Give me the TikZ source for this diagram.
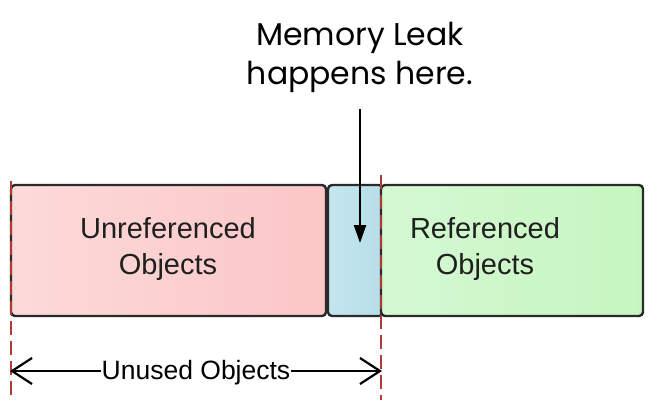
\documentclass[tikz,border=0pt]{standalone}
\usepackage{fontspec}
\setmainfont{Liberation Sans}
\newfontfamily\topfont{Poppins}
\usetikzlibrary{arrows.meta}
\definecolor{boxline}{HTML}{2A2A2A}
\definecolor{dashred}{HTML}{B23A36}
\definecolor{redA}{HTML}{FDDADA}
\definecolor{redB}{HTML}{FBC6C6}
\definecolor{blueA}{HTML}{C4E6EE}
\definecolor{blueB}{HTML}{B6DEE8}
\definecolor{greenA}{HTML}{D4F8D2}
\definecolor{greenB}{HTML}{C6F6C0}
\tikzset{
  membox/.style={draw=boxline, line width=2.4pt, rounded corners=4pt},
  boxtext/.style={font=\fontsize{29}{36}\selectfont, align=center, text=black!88},
  guide/.style={draw=dashred, line width=2.4pt, dash pattern=on 14pt off 6pt},
  dimarrow/.style={draw=black, line width=2.2pt, {Straight Barb[length=20pt,width=26pt,line width=2.2pt]}-{Straight Barb[length=20pt,width=26pt,line width=2.2pt]}},
}
\begin{document}
\begin{tikzpicture}[x=1pt,y=-1pt]
\useasboundingbox (0,0) rectangle (650,400);
% boxes
\path[membox, left color=redA, right color=redB] (11,185) rectangle (326,316);
\path[membox, left color=blueA, right color=blueB] (328,185) rectangle (383,316);
\path[membox, left color=greenA, right color=greenB] (381,185) rectangle (643,316);
\node[boxtext] (unref) at (168,249) {Unreferenced\\Objects};
\node[boxtext] (ref) at (485,249) {Referenced\\Objects};
% guides
\coordinate (gl1) at (11,181);
\coordinate (gl2) at (11,400);
\coordinate (gr1) at (381,175);
\coordinate (gr2) at (381,400);
\draw[guide] (gl1) -- (gl2);
\draw[guide] (gr1) -- (gr2);
% top label and arrow
\node[font=\topfont\fontsize{31.5}{39}\selectfont, align=center] (leak) at (360,57) {Memory Leak\\happens here.};
\coordinate (tip) at (360,243);
\draw[line width=2.4pt, -{Triangle[length=18pt,width=12pt]}] (360,109) -- (tip);
% dimension
\coordinate (dl) at (10,371);
\coordinate (dr) at (382,371);
\draw[dimarrow] (dl) -- (dr);
\node[fill=white, inner sep=1pt, font=\fontsize{26.5}{30}\selectfont] (unused) at (196,373) {Unused Objects};
\end{tikzpicture}
\end{document}
